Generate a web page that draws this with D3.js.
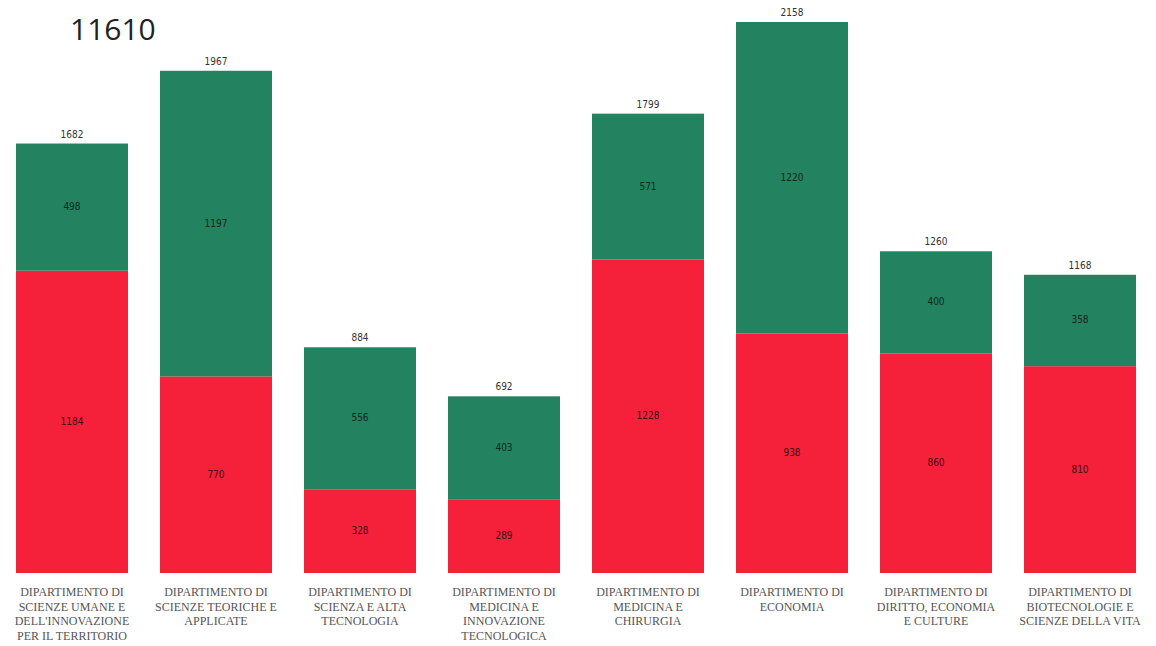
<!DOCTYPE html>
<html><head><meta charset="utf-8">
<script src="https://cdn.jsdelivr.net/npm/d3@7"></script>
<style>html,body{margin:0;padding:0;background:#fff;}svg{display:block;}</style>
</head><body>
<svg id="chart" width="1156" height="646"></svg>
<script>
const categories = [
  "DIPARTIMENTO DI SCIENZE UMANE E DELL'INNOVAZIONE PER IL TERRITORIO",
  "DIPARTIMENTO DI SCIENZE TEORICHE E APPLICATE",
  "DIPARTIMENTO DI SCIENZA E ALTA TECNOLOGIA",
  "DIPARTIMENTO DI MEDICINA E INNOVAZIONE TECNOLOGICA",
  "DIPARTIMENTO DI MEDICINA E CHIRURGIA",
  "DIPARTIMENTO DI ECONOMIA",
  "DIPARTIMENTO DI DIRITTO, ECONOMIA E CULTURE",
  "DIPARTIMENTO DI BIOTECNOLOGIE E SCIENZE DELLA VITA"
];
const labelLines = [
  ["DIPARTIMENTO DI", "SCIENZE UMANE E", "DELL'INNOVAZIONE", "PER IL TERRITORIO"],
  ["DIPARTIMENTO DI", "SCIENZE TEORICHE E", "APPLICATE"],
  ["DIPARTIMENTO DI", "SCIENZA E ALTA", "TECNOLOGIA"],
  ["DIPARTIMENTO DI", "MEDICINA E", "INNOVAZIONE", "TECNOLOGICA"],
  ["DIPARTIMENTO DI", "MEDICINA E", "CHIRURGIA"],
  ["DIPARTIMENTO DI", "ECONOMIA"],
  ["DIPARTIMENTO DI", "DIRITTO, ECONOMIA", "E CULTURE"],
  ["DIPARTIMENTO DI", "BIOTECNOLOGIE E", "SCIENZE DELLA VITA"]
];
const redValues = [1184, 770, 328, 289, 1228, 938, 860, 810];
const greenValues = [498, 1197, 556, 403, 571, 1220, 400, 358];
const grandTotal = "11610";

const svg = d3.select("#chart");
const baseY = 573, topY = 22;
const x = d3.scaleBand().domain(categories).range([0, 1152]).paddingInner(0.2222).paddingOuter(0.111);
const totals = categories.map((c, i) => redValues[i] + greenValues[i]);
const y = d3.scaleLinear().domain([0, d3.max(totals)]).range([baseY, topY]);

const data = categories.map((c, i) => ({c, red: redValues[i], green: greenValues[i], total: totals[i], lines: labelLines[i]}));

const g = svg.append("g");
g.selectAll("rect.red").data(data).join("rect").attr("class", "red")
  .attr("x", d => x(d.c)).attr("width", x.bandwidth())
  .attr("y", d => y(d.red)).attr("height", d => baseY - y(d.red))
  .attr("fill", "#f5213a");
g.selectAll("rect.green").data(data).join("rect").attr("class", "green")
  .attr("x", d => x(d.c)).attr("width", x.bandwidth())
  .attr("y", d => y(d.total)).attr("height", d => y(d.red) - y(d.total))
  .attr("fill", "#23825f");

const font = "'Liberation Sans Narrow','DejaVu Sans Condensed',Arial,sans-serif";
g.selectAll("text.rl").data(data).join("text").attr("class", "rl")
  .attr("x", d => x(d.c) + x.bandwidth() / 2)
  .attr("y", d => (y(d.red) + baseY) / 2 + 3)
  .attr("text-anchor", "middle").attr("font-family", font).attr("font-size", 10)
  .attr("fill", "#3a0a10").text(d => d.red);
g.selectAll("text.gl").data(data).join("text").attr("class", "gl")
  .attr("x", d => x(d.c) + x.bandwidth() / 2)
  .attr("y", d => (y(d.red) + y(d.total)) / 2 + 3)
  .attr("text-anchor", "middle").attr("font-family", font).attr("font-size", 10)
  .attr("fill", "#0d2a1e").text(d => d.green);
g.selectAll("text.tl").data(data).join("text").attr("class", "tl")
  .attr("x", d => x(d.c) + x.bandwidth() / 2)
  .attr("y", d => y(d.total) - 6)
  .attr("text-anchor", "middle").attr("font-family", font).attr("font-size", 10)
  .attr("fill", "#333").text(d => d.total);

const lab = g.selectAll("text.cat").data(data).join("text").attr("class", "cat")
  .attr("text-anchor", "middle")
  .attr("font-family", "'Liberation Serif','Times New Roman',serif")
  .attr("font-size", 12).attr("fill", "#555")
  .attr("transform", d => `translate(${x(d.c) + x.bandwidth() / 2},596)`);
lab.selectAll("tspan").data(d => d.lines).join("tspan")
  .attr("x", 0).attr("dy", (l, i) => i === 0 ? 0 : 14.5).text(l => l);

svg.append("text").attr("x", 70).attr("y", 40)
  .attr("font-family", "'Open Sans','DejaVu Sans',sans-serif").attr("font-size", 30)
  .attr("fill", "#222").text(grandTotal);
</script>
</body></html>
